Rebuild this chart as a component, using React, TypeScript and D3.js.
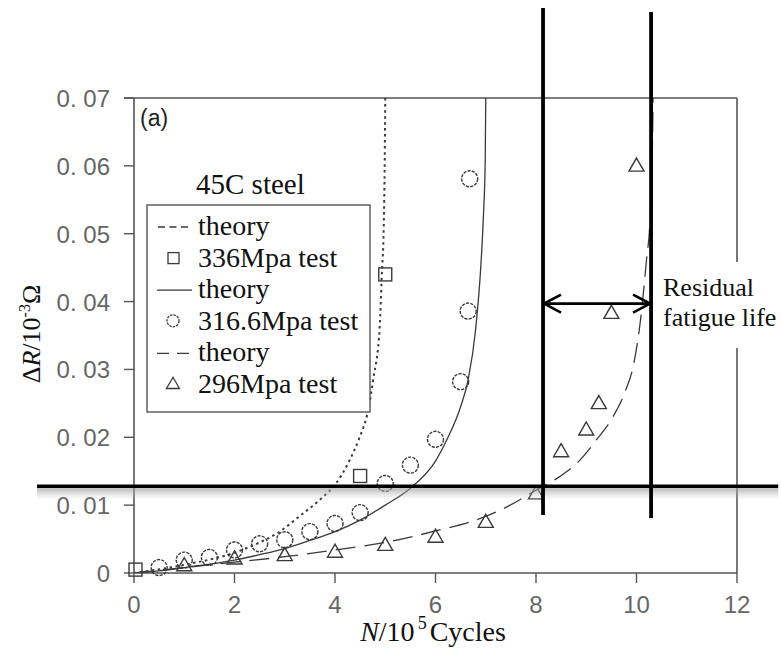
import React from "react";
import * as d3 from "d3";

// ---------- data ----------
const xTicks = [0, 2, 4, 6, 8, 10, 12];
const xTickLabels = ["0", "2", "4", "6", "8", "10", "12"];
const yTicks = [0, 0.01, 0.02, 0.03, 0.04, 0.05, 0.06, 0.07];
const yTickLabels = ["0", "0. 01", "0. 02", "0. 03", "0. 04", "0. 05", "0. 06", "0. 07"];

// 336 MPa test (squares)
const n336 = [0.03, 4.5, 5.0];
const r336 = [0.0005, 0.0143, 0.044];
// 316.6 MPa test (circles)
const n316 = [0.5, 1, 1.5, 2, 2.5, 3, 3.5, 4, 4.5, 5, 5.5, 6, 6.5, 6.65, 6.68];
const r316 = [0.0008, 0.0019, 0.0023, 0.0034, 0.0043, 0.0049, 0.0061, 0.0073, 0.0089, 0.0132, 0.0159, 0.0197, 0.0282, 0.0386, 0.0581];
// 296 MPa test (triangles)
const n296 = [1, 2, 3, 4, 5, 6, 7, 8, 8.5, 9, 9.25, 9.5, 10];
const r296 = [0.0011, 0.0021, 0.0026, 0.0031, 0.0041, 0.0053, 0.0075, 0.0117, 0.0179, 0.0211, 0.025, 0.0383, 0.06];

// theory curves
const theory336N = [0, 1, 2, 2.5, 2.84, 3.3, 3.76, 4, 4.29, 4.49, 4.66, 4.76, 4.89, 4.93, 4.97, 4.99, 5.0];
const theory336R = [0, 0.0012, 0.003, 0.0045, 0.0058, 0.0084, 0.0112, 0.013, 0.0166, 0.02, 0.024, 0.0285, 0.0363, 0.0437, 0.0511, 0.061, 0.07];
const theory316N = [0, 0.5, 1, 1.5, 2, 2.5, 3, 3.5, 4, 4.5, 5, 5.5, 6, 6.25, 6.5, 6.65, 6.8, 6.9, 6.95, 6.99, 7.0];
const theory316R = [0, 0.0003, 0.0008, 0.0013, 0.0019, 0.0027, 0.0036, 0.0048, 0.0061, 0.0078, 0.01, 0.0125, 0.0165, 0.02, 0.0245, 0.0285, 0.036, 0.045, 0.052, 0.061, 0.07];
const theory296N = [0, 1, 2, 3, 4, 5, 6, 6.88, 7.41, 8, 8.47, 8.87, 9.2, 9.53, 9.76, 9.95, 10.08, 10.2, 10.27, 10.31, 10.33];
const theory296R = [0, 0.0008, 0.0016, 0.0024, 0.0034, 0.0045, 0.0062, 0.008, 0.0097, 0.0122, 0.0142, 0.0166, 0.0196, 0.023, 0.0265, 0.031, 0.0373, 0.0462, 0.052, 0.06, 0.07];

// annotation positions (data units)
const thresholdR = 0.0128;
const cutN = [8.14, 10.29];
const arrowR = 0.0397;

const legendLabels = ["theory", "336Mpa test", "theory", "316.6Mpa test", "theory", "296Mpa test"];

export default function App() {
  const W = 781, H = 657;
  const x = d3.scaleLinear().domain([0, 12]).range([134, 737]);
  const y = d3.scaleLinear().domain([0, 0.07]).range([573, 98]);
  const axisColor = "#555";
  const markColor = "#3a3a3a";
  const tickColor = "#666";

  const line = (ns: number[], rs: number[]) =>
    d3.line<number>().x((_, i) => x(ns[i])).y((_, i) => y(rs[i])).curve(d3.curveMonotoneX)(ns as any) || "";

  const tri = (cx: number, cy: number, s: number) => {
    const h = s * 0.87;
    return `M${cx},${cy - h * 0.6}L${cx + s / 2},${cy + h * 0.4}L${cx - s / 2},${cy + h * 0.4}Z`;
  };

  const legX = 147, legY = 205, legW = 223, legH = 207;
  const rowY = (i: number) => 235 + i * 31.6;

  const arrowY = y(arrowR);
  const xa = x(cutN[0]), xb = x(cutN[1]);

  return (
    <svg width={W} height={H} style={{ position: "absolute", left: 0, top: 0, background: "#fff" }}>
      <defs>
        <linearGradient id="shadow" x1="0" y1="0" x2="0" y2="1">
          <stop offset="0" stopColor="#999" stopOpacity="0.7" />
          <stop offset="1" stopColor="#ccc" stopOpacity="0" />
        </linearGradient>
        <clipPath id="plotClip">
          <rect x={x(0)} y={y(0.07)} width={x(12) - x(0)} height={y(0) - y(0.07)} />
        </clipPath>
      </defs>
      <rect width={W} height={H} fill="#fff" />

      {/* frame */}
      <line x1={x(0) - 10} x2={x(12)} y1={y(0.07)} y2={y(0.07)} stroke={axisColor} strokeWidth={1.6} />
      <line x1={x(12)} x2={x(12)} y1={y(0.07)} y2={y(0)} stroke={axisColor} strokeWidth={1.6} />
      <line x1={x(0)} x2={x(0)} y1={y(0.07)} y2={y(0)} stroke={axisColor} strokeWidth={1.6} />
      <line x1={x(0)} x2={x(12)} y1={y(0)} y2={y(0)} stroke={axisColor} strokeWidth={1.6} />

      {/* y ticks */}
      {yTicks.map((t, i) => (
        <g key={"y" + i}>
          <line x1={x(0) - 10} x2={x(0)} y1={y(t)} y2={y(t)} stroke={axisColor} strokeWidth={1.4} />
          <text x={110} y={y(t) + 9} textAnchor="end" fontFamily="Liberation Sans" fontSize={24} fill={tickColor}>
            {yTickLabels[i]}
          </text>
        </g>
      ))}
      {/* x ticks */}
      {xTicks.map((t, i) => (
        <g key={"x" + i}>
          <line x1={x(t)} x2={x(t)} y1={y(0)} y2={y(0) + 10} stroke={axisColor} strokeWidth={1.4} />
          <text x={x(t)} y={613} textAnchor="middle" fontFamily="Liberation Sans" fontSize={24} fill={tickColor}>
            {xTickLabels[i]}
          </text>
        </g>
      ))}

      {/* axis titles */}
      <text
        transform={`translate(40,${334}) rotate(-90)`}
        textAnchor="middle"
        fontFamily="Liberation Serif"
        fontSize={26}
        fill="#111"
      >
        <tspan>Δ</tspan>
        <tspan fontStyle="italic">R</tspan>
        <tspan>/10</tspan>
        <tspan fontSize={16} dy={-10}>-3</tspan>
        <tspan dy={10}>Ω</tspan>
      </text>
      <text x={433} y={641} textAnchor="middle" fontFamily="Liberation Serif" fontSize={28} fill="#111">
        <tspan fontStyle="italic">N</tspan>
        <tspan>/10</tspan>
        <tspan fontSize={18} dy={-12} dx={3}>5</tspan>
        <tspan dy={12} dx={3}>Cycles</tspan>
      </text>

      {/* (a) */}
      <text x={140} y={126} fontFamily="Liberation Sans" fontSize={23} fill="#222">(a)</text>

      {/* theory curves */}
      <g clipPath="url(#plotClip)" fill="none" stroke={markColor} strokeWidth={1.3}>
        <path d={line(theory336N, theory336R)} strokeDasharray="2.5,3.5" strokeWidth={2} />
        <path d={line(theory316N, theory316R)} />
        <path d={line(theory296N, theory296R)} strokeDasharray="20,9" />
      </g>

      {/* test markers */}
      <g fill="none" stroke={markColor} strokeWidth={1.4}>
        {n336.map((n, i) => (
          <rect key={"s" + i} x={x(n) - 6.5} y={y(r336[i]) - 6.5} width={13} height={13} />
        ))}
        {n316.map((n, i) => (
          <circle key={"c" + i} cx={x(n)} cy={y(r316[i])} r={8} strokeDasharray="3.2,1.2" />
        ))}
        {n296.map((n, i) => (
          <path key={"t" + i} d={tri(x(n), y(r296[i]), 15)} />
        ))}
      </g>

      {/* legend */}
      <text x={196} y={194} fontFamily="Liberation Serif" fontSize={29} fill="#111">45C steel</text>
      <rect x={legX} y={legY} width={legW} height={legH} fill="#fff" stroke={axisColor} strokeWidth={1.4} />
      <g stroke={markColor} strokeWidth={1.3} fill="none">
        <line x1={158} x2={192} y1={rowY(0) - 8} y2={rowY(0) - 8} strokeDasharray="7,4.5" />
        <rect x={168} y={rowY(1) - 14} width={11} height={11} />
        <line x1={157} x2={192} y1={rowY(2) - 8} y2={rowY(2) - 8} />
        <circle cx={173} cy={rowY(3) - 9} r={6} strokeDasharray="2.5,1" />
        <line x1={157} x2={192} y1={rowY(4) - 8} y2={rowY(4) - 8} strokeDasharray="12,8" />
        <path d={tri(173, rowY(5) - 9, 13)} />
      </g>
      {legendLabels.map((l, i) => (
        <text key={"l" + i} x={198} y={rowY(i)} fontFamily="Liberation Serif" fontSize={28} fill="#111">
          {l}
        </text>
      ))}

      {/* annotation: threshold line with shadow */}
      <rect x={x(-1.93)} y={y(thresholdR) + 2} width={x(12.82) - x(-1.93)} height={12} fill="url(#shadow)" />
      <line x1={x(-1.93)} x2={x(12.82)} y1={y(thresholdR)} y2={y(thresholdR)} stroke="#000" strokeWidth={3.5} />
      {/* vertical cut lines */}
      <line x1={xa} x2={xa} y1={8} y2={515} stroke="#000" strokeWidth={3.8} />
      <line x1={xb} x2={xb} y1={12} y2={518} stroke="#000" strokeWidth={3.8} />

      {/* double arrow */}
      <g stroke="#000" strokeWidth={2.6} fill="none">
        <line x1={xa} x2={xb} y1={arrowY} y2={arrowY} />
        <path d={`M${xa + 18},${arrowY - 9}L${xa + 1},${arrowY}L${xa + 18},${arrowY + 9}`} />
        <path d={`M${xb - 18},${arrowY - 9}L${xb - 1},${arrowY}L${xb - 18},${arrowY + 9}`} />
      </g>
      <rect x={660} y={262} width={121} height={86} fill="#fff" />
      <text x={663} y={296} fontFamily="Liberation Serif" fontSize={26} fill="#111">Residual</text>
      <text x={663} y={326} fontFamily="Liberation Serif" fontSize={26} fill="#111">fatigue life</text>
    </svg>
  );
}
